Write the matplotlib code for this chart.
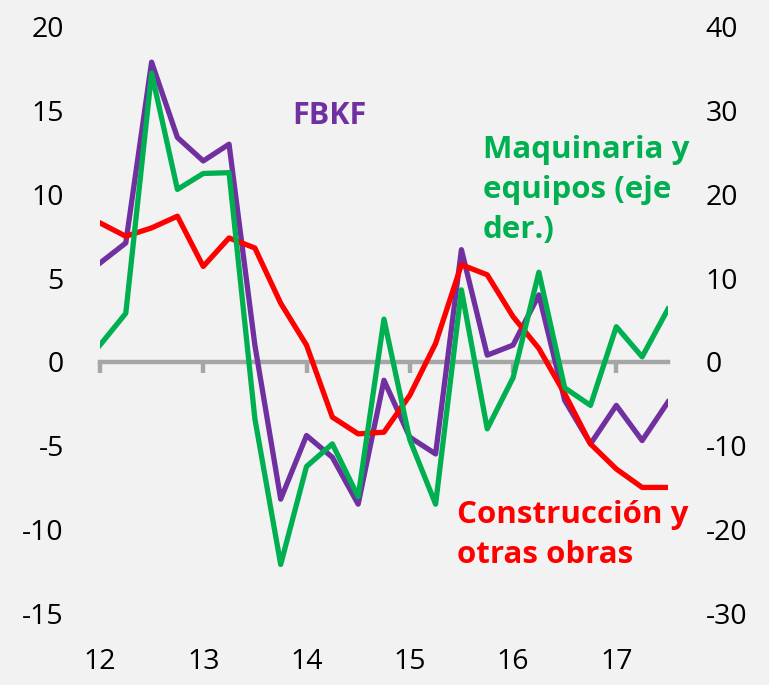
import matplotlib
matplotlib.use("Agg")
import matplotlib.pyplot as plt
import numpy as np

plt.rcParams["axes.unicode_minus"] = False

# trimestres 2012T1 .. 2017T3
years = ["12", "13", "14", "15", "16", "17"]
fbkf = [5.9, 7.1, 17.9, 13.4, 12.0, 13.0, 1.0, -8.2, -4.4, -5.7, -8.5, -1.1,
        -4.5, -5.5, 6.7, 0.4, 1.0, 4.0, -2.3, -4.9, -2.6, -4.7, -2.4]
construccion = [8.3, 7.5, 8.0, 8.7, 5.7, 7.4, 6.8, 3.5, 1.0, -3.3, -4.3, -4.2,
                -2.0, 1.1, 5.8, 5.2, 2.7, 0.8, -1.9, -4.9, -6.4, -7.5, -7.5]
maquinaria = [2.0, 5.8, 34.5, 20.6, 22.5, 22.6, -6.8, -24.2, -12.5, -9.8, -16.1, 5.1,
              -9.3, -17.0, 8.6, -8.0, -1.9, 10.7, -3.1, -5.2, 4.2, 0.6, 6.3]

PURPLE = "#7030A0"
GREEN = "#00B050"
RED = "#FF0000"
GRAY = "#A6A6A6"
FONT = "Open Sans"

x = np.arange(len(fbkf))

fig = plt.figure(figsize=(7.69, 6.85), dpi=100, facecolor="#F2F2F2")
ax = fig.add_axes([0.130, 0.1051, 0.7386, 0.8555])
ax.set_facecolor("#F2F2F2")
ax2 = ax.twinx()

ax.plot(x, fbkf, color=PURPLE, lw=3.8, solid_joinstyle="round", zorder=3)
ax.plot(x, construccion, color=RED, lw=3.8, solid_joinstyle="round", zorder=4)
ax2.plot(x, maquinaria, color=GREEN, lw=3.8, solid_joinstyle="round", zorder=5)

ax.set_xlim(0, len(x) - 1)
ax.set_ylim(-15, 20)
ax2.set_ylim(-30, 40)
ax.set_yticks(np.arange(-15, 21, 5))
ax2.set_yticks(np.arange(-30, 41, 10))

for a in (ax, ax2):
    for s in ("left", "right", "top", "bottom"):
        a.spines[s].set_visible(False)

ax.spines["bottom"].set_visible(True)
ax.spines["bottom"].set_position(("data", 0))
ax.spines["bottom"].set_color(GRAY)
ax.spines["bottom"].set_linewidth(3.2)
ax.spines["bottom"].set_zorder(1)
ax.set_xticks(np.arange(0, len(x), 4))
ax.tick_params(axis="x", direction="out", length=8, width=3.2, color=GRAY, labelbottom=False)

ax.tick_params(axis="y", length=0, pad=26, labelsize=20.5)
ax2.tick_params(axis="y", length=0, pad=27, labelsize=20.5)
for lab in ax.get_yticklabels() + ax2.get_yticklabels():
    lab.set_fontfamily(FONT)

for i, yr in enumerate(years):
    ax.annotate(yr, xy=(i * 4, 0), xycoords=("data", "axes fraction"),
                xytext=(0, -49), textcoords="offset pixels",
                ha="center", va="center", fontsize=20.5, fontfamily=FONT)

ax.text(292, 685 - 116, "FBKF", transform=None, color=PURPLE, fontsize=22,
        fontweight="bold", fontfamily=FONT, va="center", ha="left")
ax.text(483, 685 - 190, "Maquinaria y\nequipos (eje\nder.)", transform=None,
        color=GREEN, fontsize=22.5, fontweight="bold", fontfamily=FONT,
        va="center", ha="left", linespacing=1.42)
ax.text(457, 685 - 535, "Construcción y\notras obras", transform=None,
        color=RED, fontsize=22.5, fontweight="bold", fontfamily=FONT,
        va="center", ha="left", linespacing=1.47)

fig.savefig("out.png", dpi=100, facecolor=fig.get_facecolor())
